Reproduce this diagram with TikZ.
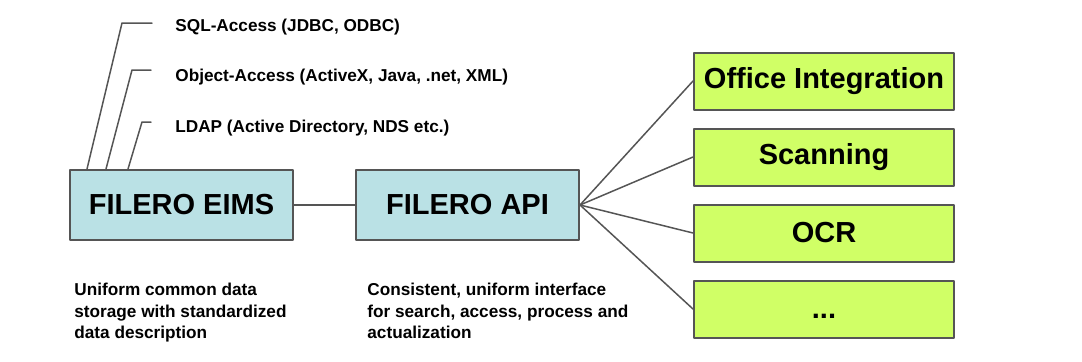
\documentclass[tikz,border=0pt]{standalone}
\usepackage{fontspec}
\setmainfont{Liberation Sans}
\usetikzlibrary{positioning}
\definecolor{boxblue}{RGB}{186,225,229}
\definecolor{boxgreen}{RGB}{208,255,102}
\definecolor{linegray}{RGB}{85,85,85}
\begin{document}
\begin{tikzpicture}[x=0.5pt,y=-0.5pt,line join=round,line cap=round,
		core/.style={draw=linegray,line width=1pt,fill=boxblue,minimum width=111.5pt,minimum height=35pt,inner sep=0pt,font=\fontsize{14.5}{17}\selectfont\bfseries},
		module/.style={draw=linegray,line width=1pt,fill=boxgreen,minimum width=130pt,minimum height=28.5pt,inner sep=0pt,font=\fontsize{14.5}{17}\selectfont\bfseries},
		lbl/.style={anchor=west,inner sep=0pt,font=\fontsize{8.6}{10.75}\selectfont\bfseries},
		note/.style={anchor=north west,align=left,inner sep=0pt,font=\fontsize{8.6}{10.75}\selectfont\bfseries},
		wire/.style={draw=linegray,line width=0.75pt}]
	\useasboundingbox (0,0) rectangle (1082,361);
	% core boxes
	\node[core] (eims) at (181.5,205) {FILERO EIMS};
	\node[core] (api) at (467.5,205) {FILERO API};
	% modules
	\node[module] (office) at (824,81) {Office Integration};
	\node[module,below=8.5pt of office] (scan) {Scanning};
	\node[module,below=8.5pt of scan] (ocr) {OCR};
	\node[module,below=8.5pt of ocr] (more) {\vphantom{OCR}...};
	% access labels
	\node[lbl] (sql) at (175,27) {SQL-Access (JDBC, ODBC)};
	\node[lbl] (obj) at (175,77) {Object-Access (ActiveX, Java, .net, XML)};
	\node[lbl] (ldap) at (175,128) {LDAP (Active Directory, NDS etc.)};
	\coordinate (sqlbend) at (122,23);
	\coordinate (sqlend) at (152,23);
	\coordinate (objbend) at (132,70);
	\coordinate (objend) at (151,70);
	\coordinate (ldapbend) at (142,122);
	\coordinate (ldapend) at (151,122);
	\draw[wire] ([xshift=9pt]eims.north west) -- (sqlbend) -- (sqlend);
	\draw[wire] ([xshift=18.5pt]eims.north west) -- (objbend) -- (objend);
	\draw[wire] ([xshift=29.5pt]eims.north west) -- (ldapbend) -- (ldapend);
	% connectors
	\draw[wire] (eims) -- (api);
	\foreach \m in {office,scan,ocr,more}
		\draw[wire] (api.east) -- (\m.west);
	% notes
	\node[note] (eimsnote) at (74,283) {Uniform common data\\storage with standardized\\data description};
	\node[note] (apinote) at (367,283) {Consistent, uniform interface\\for search, access, process and\\actualization};
\end{tikzpicture}
\end{document}
